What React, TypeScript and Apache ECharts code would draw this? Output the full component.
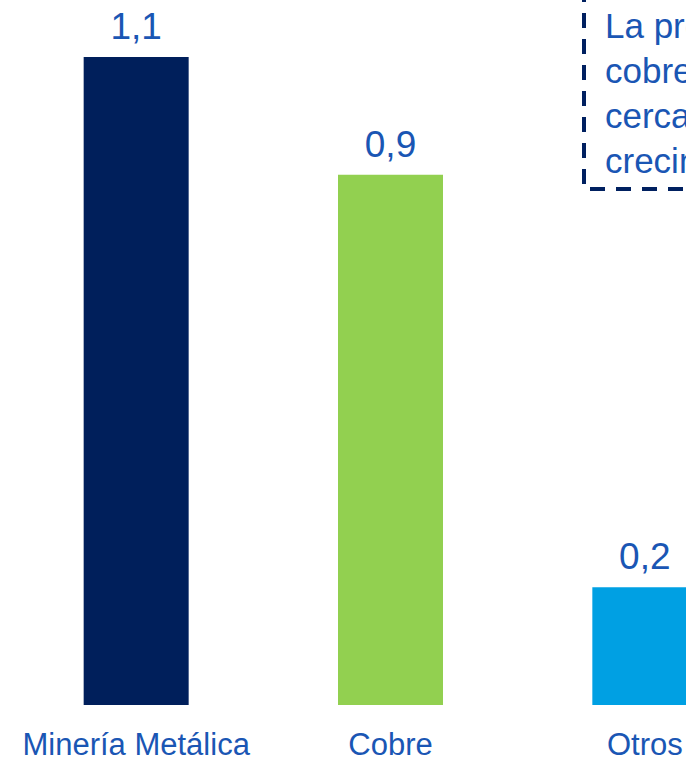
import React, { useEffect, useRef } from "react";
import * as echarts from "echarts";

const categories = ["Minería Metálica", "Cobre", "Otros"];
const values = [1.1, 0.9, 0.2];
const barColors = ["#001F5B", "#92D050", "#00A0E3"];
const noteLines = ["La producción de", "cobre explicó", "cerca de 0,9 pp del", "crecimiento"];

const TEXT_BLUE = "#1A56B4";
const FONT = "'Liberation Sans', Arial, sans-serif";

export default function App() {
  const ref = useRef<HTMLDivElement>(null);
  useEffect(() => {
    if (!ref.current) return;
    const chart = echarts.init(ref.current, null, { renderer: "svg" });
    chart.setOption({
      animation: false,
      backgroundColor: "#ffffff",
      grid: { left: 9, width: 763, top: 57, bottom: 57, containLabel: false },
      xAxis: {
        type: "category",
        data: categories,
        axisLine: { show: false },
        axisTick: { show: false },
        axisLabel: {
          color: TEXT_BLUE,
          fontSize: 31,
          fontFamily: FONT,
          margin: 24,
          interval: 0,
        },
      },
      yAxis: {
        type: "value",
        min: 0,
        max: 1.1,
        show: false,
        splitLine: { show: false },
      },
      series: [
        {
          type: "bar",
          barWidth: 105,
          data: values.map((v, i) => ({ value: v, itemStyle: { color: barColors[i] } })),
          label: {
            show: true,
            position: "top",
            distance: 12,
            color: TEXT_BLUE,
            fontSize: 37,
            fontFamily: FONT,
            formatter: (p: any) => String(p.value).replace(".", ","),
          },
        },
      ],
      graphic: [
        {
          type: "rect",
          shape: { x: 584, y: -20, width: 400, height: 209 },
          style: { fill: "none", stroke: "#002060", lineWidth: 4, lineDash: [15, 11] },
        },
        {
          type: "text",
          x: 605,
          y: 3,
          style: {
            text: noteLines.join("\n"),
            fill: TEXT_BLUE,
            fontSize: 35,
            fontFamily: FONT,
            lineHeight: 45,
          },
        },
      ],
    });
    return () => chart.dispose();
  }, []);
  return (
    <div style={{ position: "fixed", left: 0, top: 0, width: 686, height: 762, overflow: "hidden", background: "#fff" }}>
      <div ref={ref} style={{ width: 900, height: 762 }} />
    </div>
  );
}
